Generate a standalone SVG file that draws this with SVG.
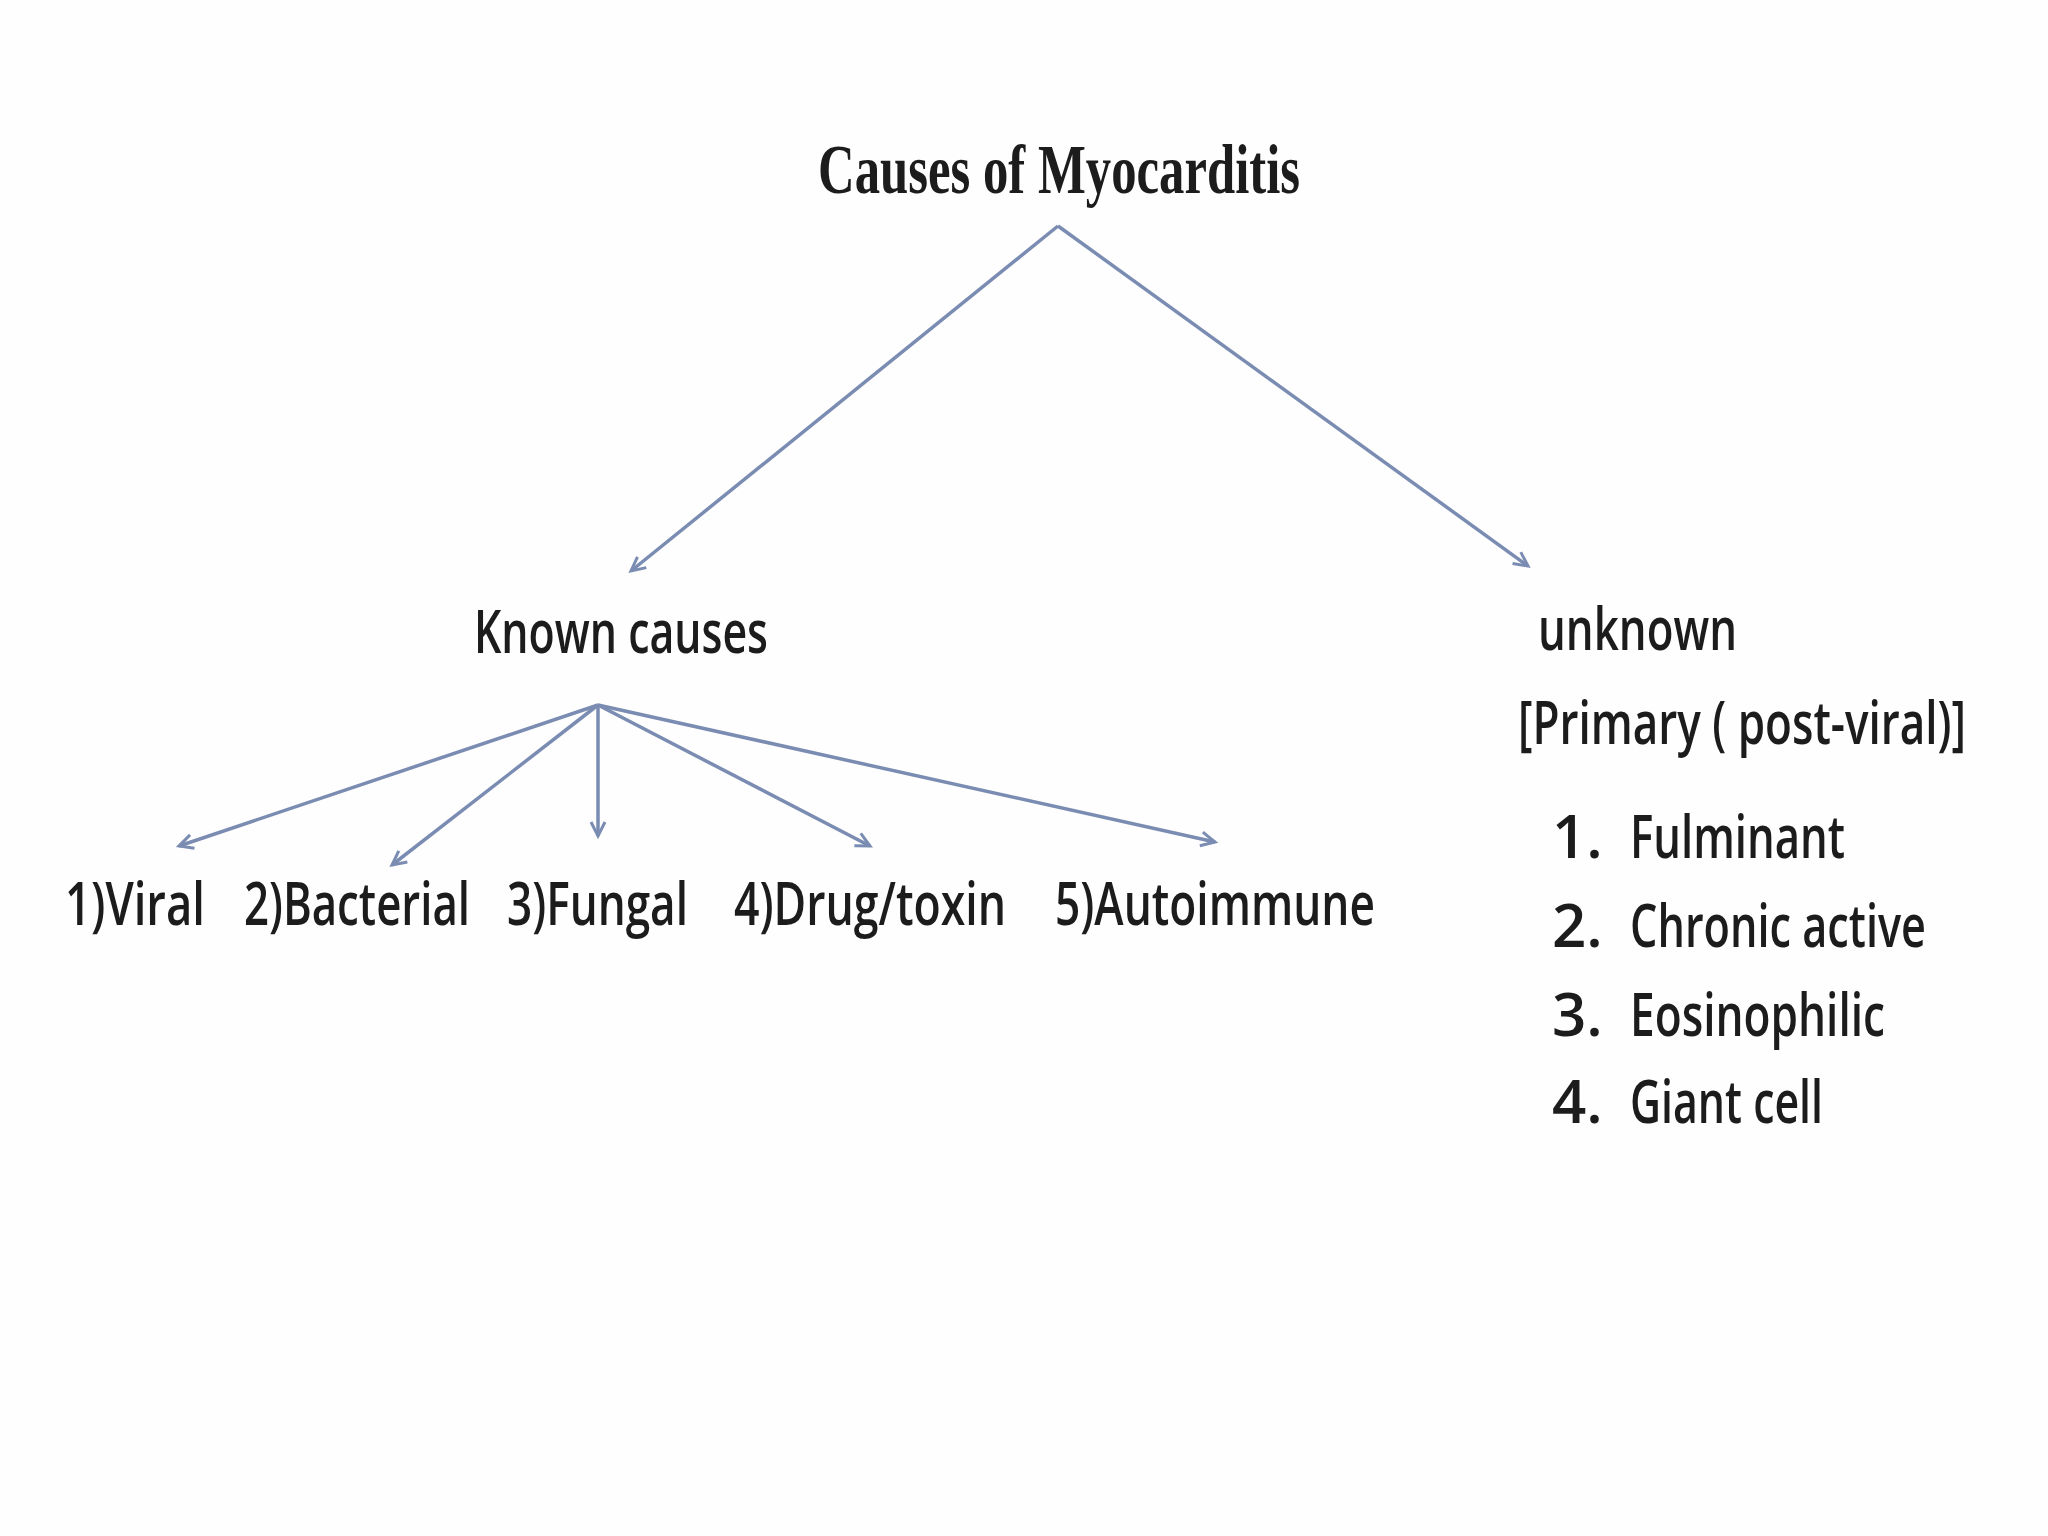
<svg xmlns="http://www.w3.org/2000/svg" width="2048" height="1536" viewBox="0 0 2048 1536">
<defs>
<marker id="arr" viewBox="0 0 20 20" refX="18" refY="10" markerWidth="20" markerHeight="20" markerUnits="userSpaceOnUse" orient="auto" overflow="visible">
<polyline points="4,3 18,10 4,17" fill="none" stroke="#7b8cb2" stroke-width="3"/>
</marker>
<style>
.t{font-family:"Open Sans","Liberation Sans",sans-serif;font-size:60px;font-weight:600;fill:#1c1c1c;}
.s{font-family:"Liberation Serif","Times New Roman",serif;font-size:70px;font-weight:bold;fill:#1c1c1c;}
.c{fill:none;stroke:#7b8cb2;stroke-width:3.5;marker-end:url(#arr);}
</style>
</defs>
<rect width="2048" height="1536" fill="#fefefe"/>
<g id="connectors">
<line class="c" x1="1058" y1="226" x2="631" y2="571"/>
<line class="c" x1="1058" y1="226" x2="1528" y2="566"/>
<line class="c" x1="598" y1="705" x2="179" y2="846"/>
<line class="c" x1="598" y1="705" x2="392" y2="865"/>
<line class="c" x1="598" y1="705" x2="598" y2="836"/>
<line class="c" x1="598" y1="705" x2="870" y2="846"/>
<line class="c" x1="598" y1="705" x2="1215" y2="842"/>
</g>
<g id="title"><text class="s" x="818" y="193" textLength="482" lengthAdjust="spacingAndGlyphs">Causes of Myocarditis</text></g>
<g id="known"><text class="t" x="474" y="653" textLength="294" lengthAdjust="spacingAndGlyphs">Known causes</text></g>
<g id="unknown">
<text class="t" x="1538" y="650" textLength="199" lengthAdjust="spacingAndGlyphs">unknown</text>
<text class="t" x="1518" y="744" textLength="448" lengthAdjust="spacingAndGlyphs">[Primary ( post-viral)]</text>
</g>
<g id="unknown-list">
<text class="t" x="1552" y="858">1.</text><text class="t" x="1630" y="858" textLength="215" lengthAdjust="spacingAndGlyphs">Fulminant</text>
<text class="t" x="1552" y="947">2.</text><text class="t" x="1630" y="947" textLength="296" lengthAdjust="spacingAndGlyphs">Chronic active</text>
<text class="t" x="1552" y="1036">3.</text><text class="t" x="1630" y="1036" textLength="255" lengthAdjust="spacingAndGlyphs">Eosinophilic</text>
<text class="t" x="1552" y="1123">4.</text><text class="t" x="1630" y="1123" textLength="193" lengthAdjust="spacingAndGlyphs">Giant cell</text>
</g>
<g id="viral"><text class="t" x="65" y="925" textLength="140" lengthAdjust="spacingAndGlyphs">1)Viral</text></g>
<g id="bacterial"><text class="t" x="244" y="925" textLength="226" lengthAdjust="spacingAndGlyphs">2)Bacterial</text></g>
<g id="fungal"><text class="t" x="507" y="925" textLength="181" lengthAdjust="spacingAndGlyphs">3)Fungal</text></g>
<g id="drug"><text class="t" x="734" y="925" textLength="272" lengthAdjust="spacingAndGlyphs">4)Drug/toxin</text></g>
<g id="autoimmune"><text class="t" x="1055" y="925" textLength="320" lengthAdjust="spacingAndGlyphs">5)Autoimmune</text></g>
</svg>
